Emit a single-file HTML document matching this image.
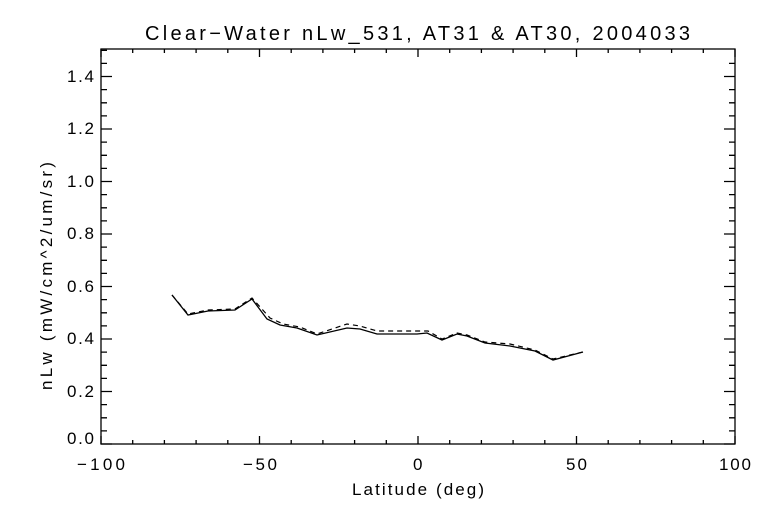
<!DOCTYPE html>
<html><head><style>
html,body{margin:0;padding:0;background:#fff;}
text{font-family:"Liberation Sans",sans-serif;fill:#000;}
</style></head><body>
<svg width="768" height="512" viewBox="0 0 768 512" xmlns="http://www.w3.org/2000/svg">
<rect width="768" height="512" fill="#fff"/>
<g stroke="#000" stroke-width="1.3" fill="none">
<rect x="101" y="49" width="634" height="395"/>
<path d="M101,444v-8M259.5,444v-8M418,444v-8M576.5,444v-8M735,444v-8M101,49v8M259.5,49v8M418,49v8M576.5,49v8M735,49v8"/>
<path d="M132.7,444v-4M164.4,444v-4M196.1,444v-4M227.8,444v-4M291.2,444v-4M322.9,444v-4M354.6,444v-4M386.3,444v-4M449.7,444v-4M481.4,444v-4M513.1,444v-4M544.8,444v-4M608.2,444v-4M639.9,444v-4M671.6,444v-4M703.3,444v-4
M132.7,49v4M164.4,49v4M196.1,49v4M227.8,49v4M291.2,49v4M322.9,49v4M354.6,49v4M386.3,49v4M449.7,49v4M481.4,49v4M513.1,49v4M544.8,49v4M608.2,49v4M639.9,49v4M671.6,49v4M703.3,49v4"/>
<path d="M101,444h11M101,391.5h11M101,339h11M101,286.5h11M101,234h11M101,181.5h11M101,129h11M101,76.5h11
M735,444h-11M735,391.5h-11M735,339h-11M735,286.5h-11M735,234h-11M735,181.5h-11M735,129h-11M735,76.5h-11"/>
<path d="M101,430.9h6M101,417.8h6M101,404.6h6M101,378.4h6M101,365.3h6M101,352.1h6M101,325.9h6M101,312.8h6M101,299.6h6M101,273.4h6M101,260.3h6M101,247.1h6M101,220.9h6M101,207.8h6M101,194.6h6M101,168.4h6M101,155.3h6M101,142.1h6M101,115.9h6M101,102.8h6M101,89.6h6M101,63.4h6M101,50.3h6
M735,430.9h-6M735,417.8h-6M735,404.6h-6M735,378.4h-6M735,365.3h-6M735,352.1h-6M735,325.9h-6M735,312.8h-6M735,299.6h-6M735,273.4h-6M735,260.3h-6M735,247.1h-6M735,220.9h-6M735,207.8h-6M735,194.6h-6M735,168.4h-6M735,155.3h-6M735,142.1h-6M735,115.9h-6M735,102.8h-6M735,89.6h-6M735,63.4h-6"/>
</g>
<polyline fill="none" stroke="#000" stroke-width="1.3" points="172,295 188,315 208,311 235,310 252,299 267,319 280,325 297,328 317,335 347,328 360,329 377,334 417,334 427,333 442,340 457,334 467,336 485,343 510,346 535,351 553,360 583,352"/>
<polyline fill="none" stroke="#000" stroke-width="1.2" stroke-dasharray="5,4" points="172,295 188,314 208,310 235,309 252,298 270,318 283,324 300,327 317,334 347,324 360,326 377,331 420,331 428,331 442,339 457,333 467,335 485,342 510,344 535,350 553,359 583,352"/>
<g font-size="17" text-anchor="end">
<text x="94" y="444" textLength="27">0.0</text>
<text x="94" y="397" textLength="27">0.2</text>
<text x="94" y="344" textLength="27">0.4</text>
<text x="94" y="292" textLength="27">0.6</text>
<text x="94" y="239" textLength="27">0.8</text>
<text x="94" y="187" textLength="27">1.0</text>
<text x="94" y="134" textLength="27">1.2</text>
<text x="94" y="82" textLength="27">1.4</text>
</g>
<g font-size="17">
<text x="77" y="470" textLength="48">−100</text>
<text x="243" y="470" textLength="34">−50</text>
<text x="413" y="470" textLength="11">0</text>
<text x="566" y="470" textLength="21">50</text>
<text x="719" y="470" textLength="32">100</text>
<text x="352" y="495" textLength="132">Latitude (deg)</text>
</g>
<text x="145" y="40" font-size="20" textLength="545">Clear−Water nLw_531, AT31 &amp; AT30, 2004033</text>
<text transform="translate(52,390) rotate(-90)" font-size="17" textLength="228">nLw (mW/cm^2/um/sr)</text>
</svg>
</body></html>
